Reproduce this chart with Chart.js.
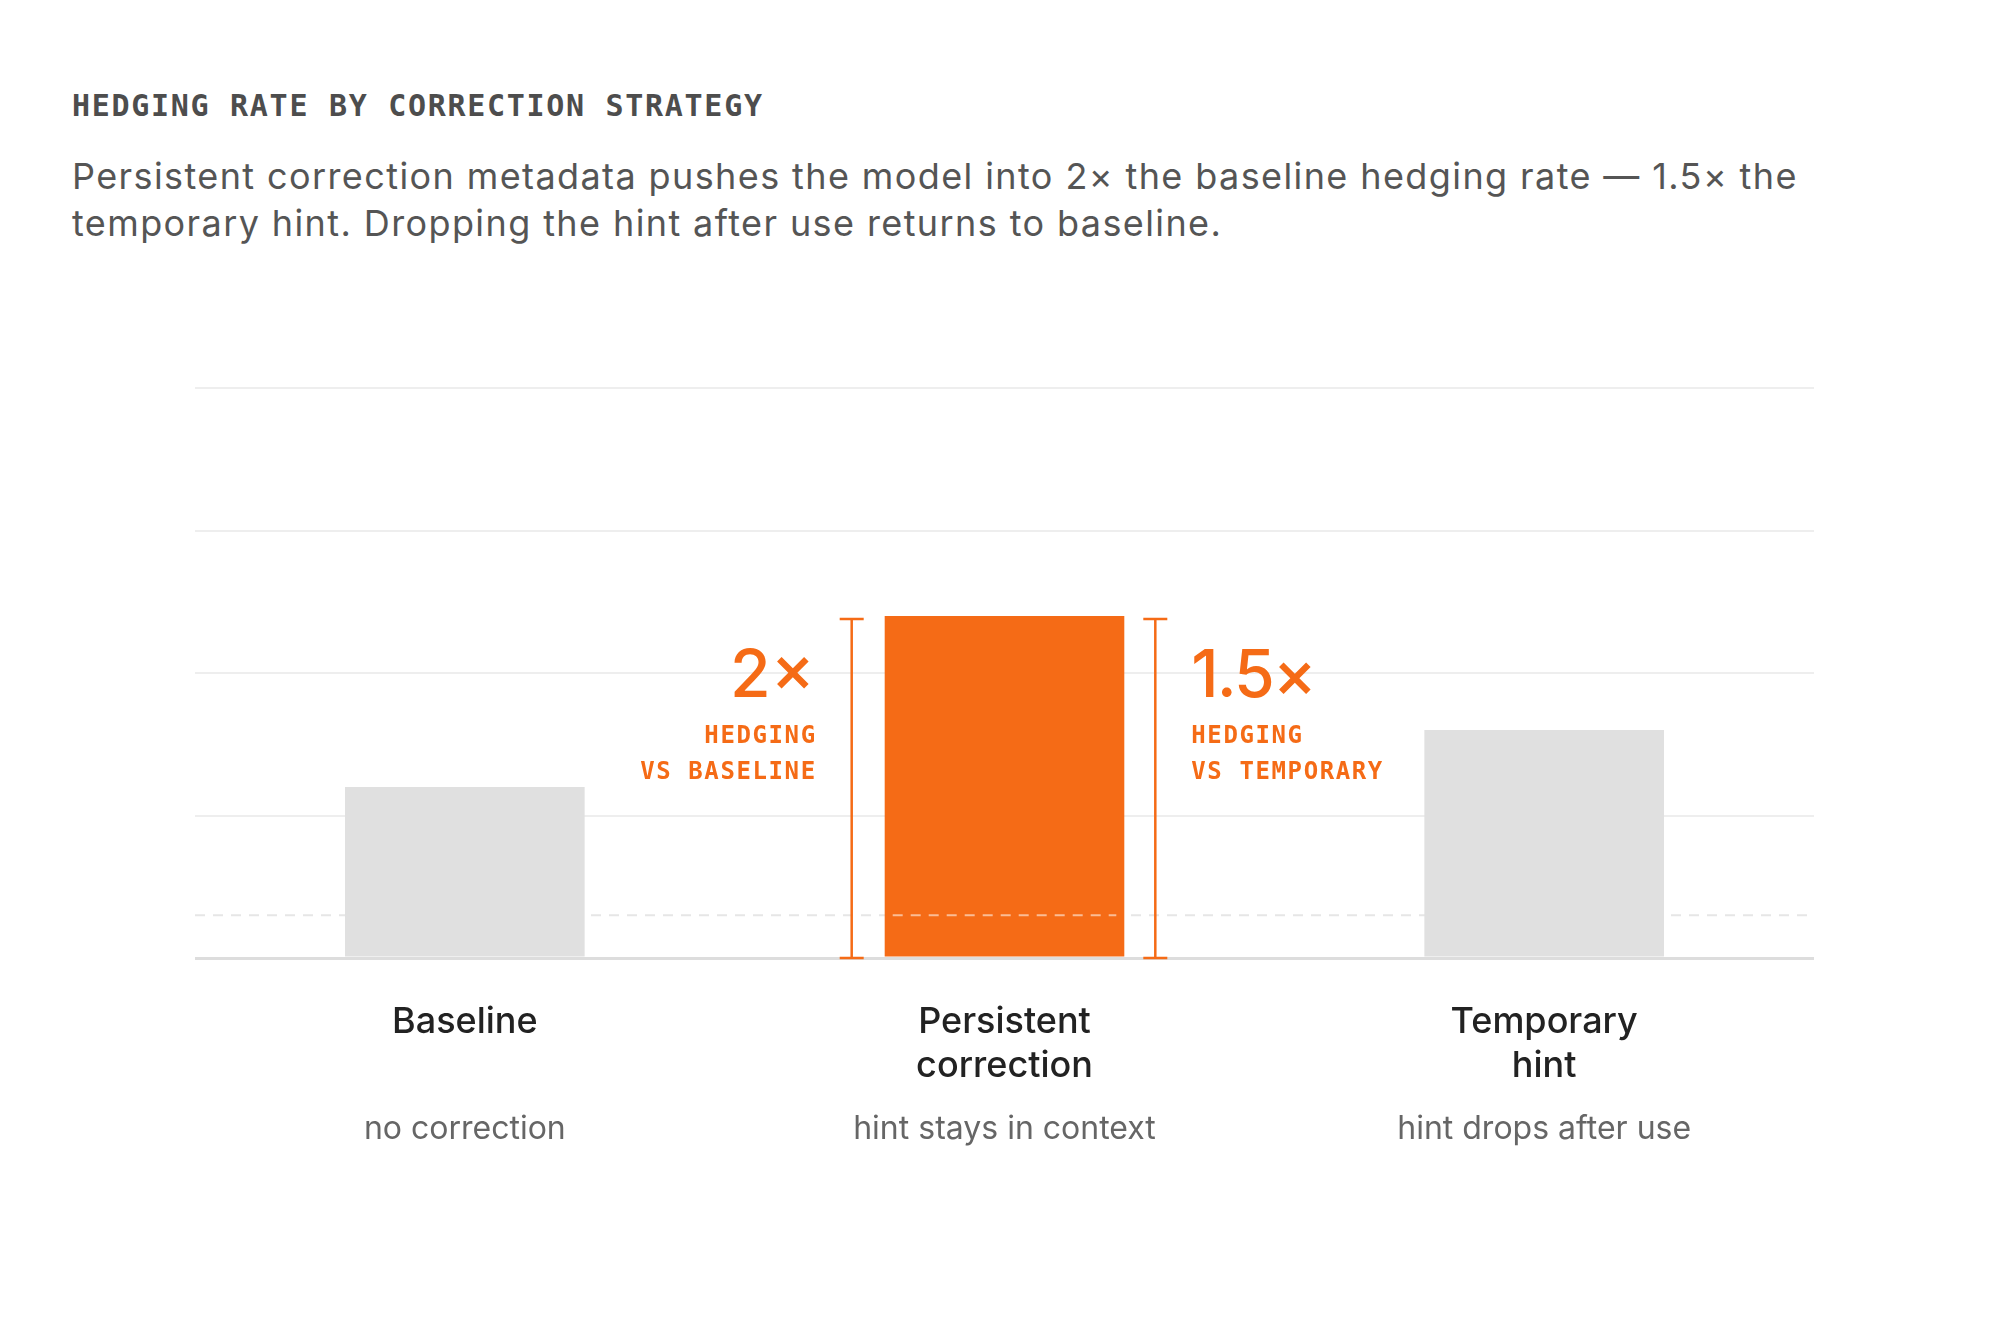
<!DOCTYPE html>
<html>
<head>
<meta charset="utf-8">
<script src="https://cdn.jsdelivr.net/npm/chart.js@4"></script>
<style>
  body { margin: 0; background: #fff; }
  #wrap { position: relative; width: 2010px; height: 1320px; }
  #title {
    position: absolute; left: 72px; top: 89px; margin: 0;
    font: bold 30px "DejaVu Sans Mono", monospace; letter-spacing: 1.7px;
    color: #4d4d4d; line-height: 34px;
  }
  #subtitle {
    position: absolute; left: 72px; top: 153px; margin: 0; width: 1900px;
    font: 36px Inter, sans-serif; letter-spacing: 1.4px; color: #555; line-height: 47px;
  }
  canvas { position: absolute; left: 0; top: 0; }
</style>
</head>
<body>
<div id="wrap">
  <h1 id="title">HEDGING RATE BY CORRECTION STRATEGY</h1>
  <p id="subtitle">Persistent correction metadata pushes the model into 2× the baseline hedging rate — 1.5× the<br>temporary hint. Dropping the hint after use returns to baseline.</p>
  <canvas id="chart" width="2010" height="1320"></canvas>
</div>
<script>
// * Data
const categories = [["Baseline"], ["Persistent", "correction"], ["Temporary", "hint"]];
const subLabels = ["no correction", "hint stays in context", "hint drops after use"];
const hedgingRate = [6, 12, 8];
const yTicks = [0, 5, 10, 15, 20];
const refLevel = 1.5;
const highlight = 1;
const leftNote = ["2×", "HEDGING", "VS BASELINE"];
const rightNote = ["1.5×", "HEDGING", "VS TEMPORARY"];

const ORANGE = "#f56b16";
const GREY = "#e0e0e0";

// * Annotations
const annotate = {
  id: "annotate",
  beforeDatasetsDraw(chart) {
    const { ctx, chartArea, scales } = chart;
    const py = scales.y.getPixelForValue(refLevel);
    ctx.save();
    ctx.setLineDash([10, 8]);
    ctx.strokeStyle = "#e6e6e6";
    ctx.lineWidth = 2;
    ctx.beginPath();
    ctx.moveTo(chartArea.left, py);
    ctx.lineTo(chartArea.right, py);
    ctx.stroke();
    ctx.restore();
  },
  afterDatasetsDraw(chart) {
    const { ctx, scales } = chart;
    const bar = chart.getDatasetMeta(0).data[highlight];
    const y0 = scales.y.getPixelForValue(0);
    const top = scales.y.getPixelForValue(hedgingRate[highlight]) + 3;
    const left = bar.x - bar.width / 2;
    const right = bar.x + bar.width / 2;
    const py = scales.y.getPixelForValue(refLevel);

    ctx.save();
    // dashed ref line through the highlighted bar
    ctx.setLineDash([10, 8]);
    ctx.strokeStyle = "rgba(255,255,255,0.55)";
    ctx.lineWidth = 2;
    ctx.beginPath();
    ctx.moveTo(left + 8, py);
    ctx.lineTo(right - 8, py);
    ctx.stroke();
    ctx.setLineDash([]);

    // brackets
    ctx.strokeStyle = ORANGE;
    ctx.lineWidth = 2.5;
    [left - 33, right + 31].forEach((bx) => {
      ctx.beginPath();
      ctx.moveTo(bx, top); ctx.lineTo(bx, y0);
      ctx.moveTo(bx - 12, top); ctx.lineTo(bx + 12, top);
      ctx.moveTo(bx - 12, y0); ctx.lineTo(bx + 12, y0);
      ctx.stroke();
    });

    ctx.fillStyle = ORANGE;
    // left note
    ctx.textAlign = "right";
    ctx.textBaseline = "alphabetic";
    ctx.font = "500 66px Inter";
    ctx.fillText(leftNote[0], left - 70, top + 78);
    ctx.textBaseline = "middle";
    ctx.font = "bold 24px 'DejaVu Sans Mono'";
    ctx.letterSpacing = "1.6px";
    ctx.fillText(leftNote[1], left - 68, top + 118);
    ctx.fillText(leftNote[2], left - 68, top + 154);

    // right note
    ctx.textAlign = "left";
    ctx.letterSpacing = "-2px";
    ctx.textBaseline = "alphabetic";
    ctx.font = "500 66px Inter";
    ctx.fillText(rightNote[0], right + 67, top + 78);
    ctx.letterSpacing = "1.6px";
    ctx.textBaseline = "middle";
    ctx.font = "bold 24px 'DejaVu Sans Mono'";
    ctx.fillText(rightNote[1], right + 67, top + 118);
    ctx.fillText(rightNote[2], right + 67, top + 154);
    ctx.restore();
  },
  afterDraw(chart) {
    const { ctx, scales } = chart;
    ctx.save();
    ctx.fillStyle = "#666";
    ctx.font = "32px Inter";
    ctx.textAlign = "center";
    ctx.textBaseline = "middle";
    subLabels.forEach((s, i) => {
      ctx.fillText(s, scales.x.getPixelForValue(i), 1129);
    });
    ctx.restore();
  },
};

// * Chart
const hc = document.getElementById("chart").getContext("2d");

const hedgingChart = new Chart(hc, {
  type: "bar",
  data: {
    labels: categories,
    datasets: [{
      data: hedgingRate,
      backgroundColor: hedgingRate.map((v, i) => (i === highlight ? ORANGE : GREY)),
      borderWidth: 0,
      categoryPercentage: 1,
      barPercentage: 0.444,
    }],
  },
  options: {
    responsive: false,
    devicePixelRatio: 1,
    animation: false,
    layout: { padding: { left: 195, right: 196, top: 388, bottom: 62 } },
    plugins: { legend: { display: false }, tooltip: { enabled: false } },
    scales: {
      x: {
        grid: { display: false, drawTicks: false },
        border: { display: false },
        ticks: {
          color: "#222",
          font: { family: "Inter", size: 36, weight: 500, lineHeight: 1.22 },
          padding: 42,
          maxRotation: 0,
        },
        afterFit(scale) { scale.height = 300; },
      },
      y: {
        min: 0,
        max: 20,
        afterBuildTicks(scale) { scale.ticks = yTicks.map((v) => ({ value: v })); },
        ticks: { display: false },
        border: { display: false },
        grid: {
          drawTicks: false,
          color: (c) => (c.tick && c.tick.value === 0 ? "#dddddd" : "#eeeeee"),
          lineWidth: (c) => (c.tick && c.tick.value === 0 ? 3 : 2),
        },
        afterFit(scale) { scale.width = 0; },
      },
    },
  },
  plugins: [annotate],
});
</script>
</body>
</html>
